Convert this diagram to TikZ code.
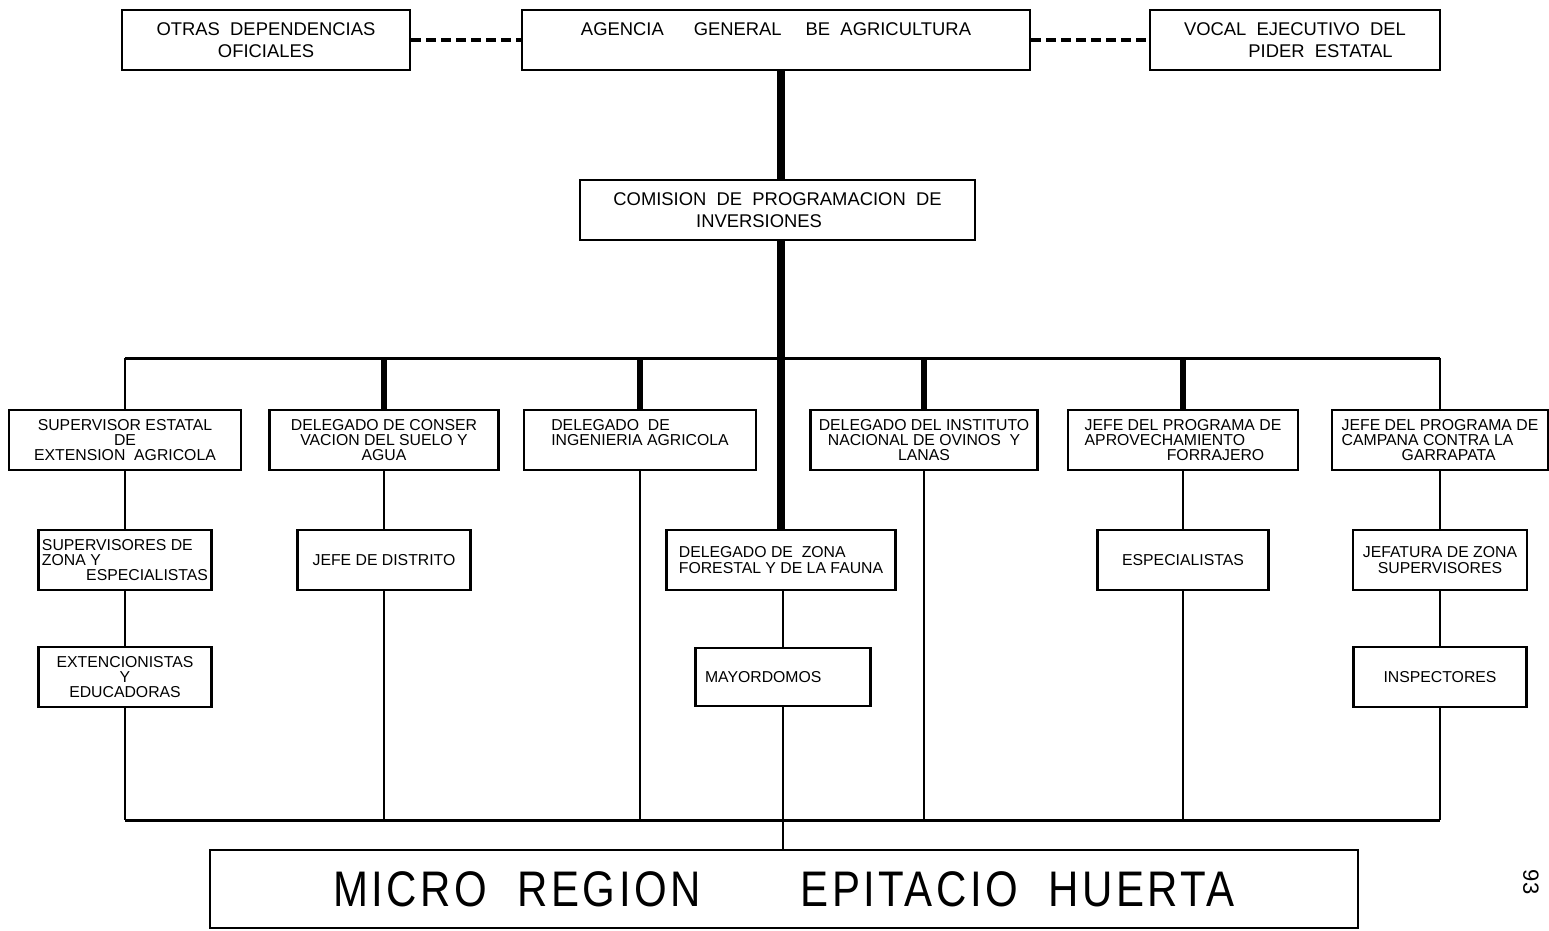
\documentclass[tikz,border=0pt]{standalone}
\usepackage{fontspec}
\setmainfont{Liberation Sans}
\newfontfamily\narrowfont[FakeStretch=0.84,LetterSpace=7]{Liberation Sans}
\usetikzlibrary{calc}

\tikzset{
  orgbox/.style={draw, line width=1.4pt, inner sep=1pt, minimum height=30pt,
    align=center, font=\fontsize{7.9}{7.6}\selectfont},
  topbox/.style={orgbox, font=\fontsize{9.2}{11}\selectfont},
  link/.style={line width=1.2pt},
  drop/.style={line width=3pt},
  spine/.style={line width=4pt},
  dotlink/.style={line width=1.6pt, dash pattern=on 5pt off 2.5pt},
}

\begin{document}
\begin{tikzpicture}[x=0.5pt,y=-0.5pt]
\useasboundingbox (0,0) rectangle (1549,931);

% top row
\node[topbox, minimum width=144pt] (otras) at (266,40) {OTRAS~~DEPENDENCIAS\\OFICIALES};
\node[topbox, minimum width=254pt] (agencia) at (776,40) {AGENCIA\hspace{15pt}GENERAL\hspace{12pt}BE~~AGRICULTURA\\\mbox{}};
\node[topbox, minimum width=145pt, align=left] (vocal) at (1295,40) {VOCAL~~EJECUTIVO~~DEL\\\hspace*{3.5em}PIDER~~ESTATAL};
\node[topbox, minimum width=197.5pt, align=left] (comision) at (777.5,210) {COMISION~~DE~~PROGRAMACION~~DE\\\hspace*{4.5em}INVERSIONES};

% first level
\node[orgbox, minimum width=116pt] (sup) at (125,440) {SUPERVISOR ESTATAL\\DE\\EXTENSION~~AGRICOLA};
\node[orgbox, minimum width=114.5pt] (cons) at (384,440) {DELEGADO DE CONSER\\VACION DEL SUELO Y\\AGUA};
\node[orgbox, minimum width=116pt, align=left] (ing) at (640,440) {DELEGADO~~DE\\INGENIERIA AGRICOLA\\\mbox{}};
\node[orgbox, minimum width=113.5pt] (inst) at (924,440) {DELEGADO DEL INSTITUTO\\NACIONAL DE OVINOS~~Y\\LANAS};
\node[orgbox, minimum width=115pt, align=left] (forr) at (1183,440) {JEFE DEL PROGRAMA DE\\APROVECHAMIENTO\\\hspace*{5.2em}FORRAJERO};
\node[orgbox, minimum width=108pt, align=left] (camp) at (1440,440) {JEFE DEL PROGRAMA DE\\CAMPANA CONTRA LA\\\hspace*{3.8em}GARRAPATA};

% second level
\node[orgbox, minimum width=86.5pt, align=left] (supz) at (125,560) {SUPERVISORES DE\\ZONA Y\\\hspace*{2.8em}ESPECIALISTAS};
\node[orgbox, minimum width=86.5pt] (dist) at (384,560) {JEFE DE DISTRITO};
\node[orgbox, minimum width=114.5pt, align=left] (zona) at (781,560) {DELEGADO DE~~ZONA\\FORESTAL Y DE LA FAUNA};
\node[orgbox, minimum width=85.5pt] (esp) at (1183,560) {ESPECIALISTAS};
\node[orgbox, minimum width=87pt] (jefz) at (1440,560) {JEFATURA DE ZONA\\SUPERVISORES};

% third level
\node[orgbox, minimum width=86.5pt] (ext) at (125,677) {EXTENCIONISTAS\\Y\\EDUCADORAS};
\node[orgbox, minimum width=87.5pt, minimum height=29pt, align=left] (may) at (783,677) {MAYORDOMOS\hspace*{2.5em}};
\node[orgbox, minimum width=86.5pt] (insp) at (1440,677) {INSPECTORES};

\node[draw, line width=1.4pt, minimum width=574pt, minimum height=39pt,
  font=\narrowfont\fontsize{25}{27}\selectfont] (micro) at (784,889) {MICRO~~REGION\hspace{50pt}EPITACIO~~HUERTA};

\node[rotate=-90, font=\fontsize{11}{12}\selectfont] (pagina) at (1531,882) {93};

% connectors
\coordinate (spinex) at (781,0);
\coordinate (bus) at (0,358);
\coordinate (base) at (0,820);

\draw[dotlink] (otras) -- (agencia);
\draw[dotlink] (agencia) -- (vocal);
\draw[spine] (agencia.south -| spinex) -- (comision.north -| spinex);
\draw[spine] (comision.south -| spinex) -- (zona.north -| spinex);

\draw[line width=1.5pt] (sup.north |- bus) -- (camp.north |- bus);
\draw[link] (sup.north |- bus) -- (sup.north);
\draw[link] (camp.north |- bus) -- (camp.north);
\foreach \n in {cons,ing,inst,forr}
  \draw[drop] (\n.north |- bus) -- (\n.north);

\draw[link] (sup) -- (supz);
\draw[link] (supz) -- (ext);
\draw[link] (cons) -- (dist);
\draw[link] (zona.south -| may) -- (may);
\draw[link] (forr) -- (esp);
\draw[link] (camp) -- (jefz);
\draw[link] (jefz) -- (insp);

\draw[line width=1.5pt] (ext.south |- base) -- (insp.south |- base);
\foreach \n in {ext,dist,ing,may,inst,esp,insp}
  \draw[link] (\n.south) -- (\n.south |- base);
\draw[link] (may.south |- base) -- (micro.north -| may.south);
\end{tikzpicture}
\end{document}
